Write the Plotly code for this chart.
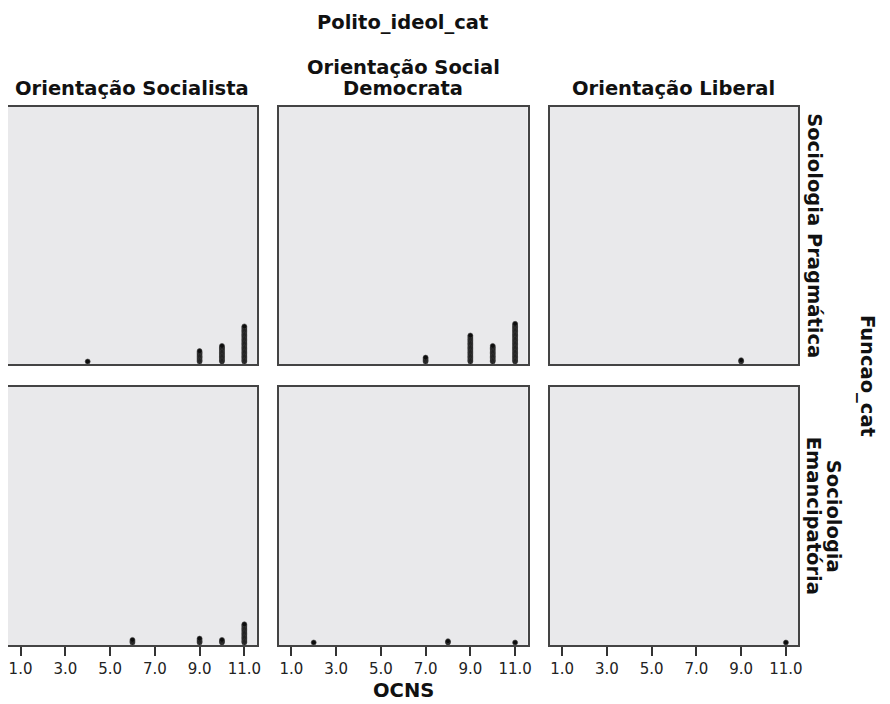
import plotly.graph_objects as go

# ---- data ----
ocns_values = [1, 2, 3, 4, 5, 6, 7, 8, 9, 10, 11]
col_labels = [["Orientação Socialista"], ["Orientação Social", "Democrata"], ["Orientação Liberal"]]
row_labels = [["Sociologia Pragmática"], ["Sociologia", "Emancipatória"]]
tick_vals = [1, 3, 5, 7, 9, 11]
tick_text = ["1.0", "3.0", "5.0", "7.0", "9.0", "11.0"]

# counts per OCNS value (1..11), per panel
socialista_prag = [0, 0, 0, 1, 0, 0, 0, 0, 9, 13, 28]
socdem_prag     = [0, 0, 0, 0, 0, 0, 4, 0, 21, 13, 30]
liberal_prag    = [0, 0, 0, 0, 0, 0, 0, 0, 2, 0, 0]
socialista_eman = [0, 0, 0, 0, 0, 3, 0, 0, 4, 3, 15]
socdem_eman     = [0, 1, 0, 0, 0, 0, 0, 2, 0, 0, 1]
liberal_eman    = [0, 0, 0, 0, 0, 0, 0, 0, 0, 0, 1]

panels = [
    [socialista_prag, socdem_prag, liberal_prag],
    [socialista_eman, socdem_eman, liberal_eman],
]

# ---- layout geometry (page has an 8px body margin) ----
W, H = 890, 704
OFF = 8
x_px = [(8, 258), (280, 530), (552, 802)]
y_px = [(107, 364), (387, 645)]
step_px = 1.3
dot_px = 5
bg = "#e9e9eb"

def fx(px):
    return (px - OFF) / W

def fy(py):
    return 1 - (py - OFF) / H

fig = go.Figure()
layout = dict(
    width=W, height=H, margin=dict(l=0, r=0, t=0, b=0),
    paper_bgcolor="white", plot_bgcolor=bg, showlegend=False,
    font=dict(family="DejaVu Sans", color="#111"),
)

idx = 0
for r in range(2):
    for c in range(3):
        idx += 1
        counts = panels[r][c]
        xs, ys = [], []
        base = (dot_px / 2) / step_px
        for v, n in zip(ocns_values, counts):
            for k in range(n):
                xs.append(v)
                ys.append(base + k)
        xa = "x" if idx == 1 else f"x{idx}"
        ya = "y" if idx == 1 else f"y{idx}"
        fig.add_trace(go.Scatter(
            x=xs, y=ys, mode="markers", xaxis=xa, yaxis=ya,
            marker=dict(symbol="circle", size=dot_px, color="#0d0d0d",
                        line=dict(color="#4a4a4a", width=0.6)),
            hoverinfo="skip",
        ))
        x0, x1 = x_px[c]
        y0, y1 = y_px[r]
        panel_h = y1 - y0
        xkey = "xaxis" if idx == 1 else f"xaxis{idx}"
        ykey = "yaxis" if idx == 1 else f"yaxis{idx}"
        bottom = r == 1
        layout[xkey] = dict(
            domain=[fx(x0), fx(x1)], anchor=ya, range=[0.44, 11.56],
            showgrid=False, zeroline=False, showline=True, mirror=True,
            linecolor="#444", linewidth=1.8,
            tickmode="array", tickvals=tick_vals, ticktext=tick_text,
            showticklabels=bottom, ticks="outside" if bottom else "",
            ticklen=9, tickwidth=2, tickcolor="#333",
            tickfont=dict(size=15, family="DejaVu Sans", color="#222"),
        )
        layout[ykey] = dict(
            domain=[fy(y1), fy(y0)], anchor=xa,
            range=[0, panel_h / step_px],
            showgrid=False, zeroline=False, showline=True, mirror=True,
            linecolor="#444", linewidth=1.8, showticklabels=False, ticks="",
        )

fig.update_layout(**layout)

ann = []
bold = dict(family="DejaVu Sans", size=19.5, color="#111")

def add(text, x, y, angle=0):
    ann.append(dict(text=f"<b>{text}</b>", x=fx(x), y=fy(y), xref="paper", yref="paper",
                    showarrow=False, font=bold, textangle=angle,
                    xanchor="center", yanchor="middle"))

add("Polito_ideol_cat", 404, 22)
for c, lines in enumerate(col_labels):
    cx = (x_px[c][0] + x_px[c][1]) / 2
    n = len(lines)
    for i, line in enumerate(lines):
        add(line, cx, 89 - (n - 1 - i) * 21)
for r, lines in enumerate(row_labels):
    cy = (y_px[r][0] + y_px[r][1]) / 2
    n = len(lines)
    for i, line in enumerate(lines):
        add(line, 818 + (n - 1 - i) * 20, cy, 90)
add("Funcao_cat", 872, 376, 90)
add("OCNS", 405, 690)
fig.update_layout(annotations=ann)

fig.write_html("out.html")
